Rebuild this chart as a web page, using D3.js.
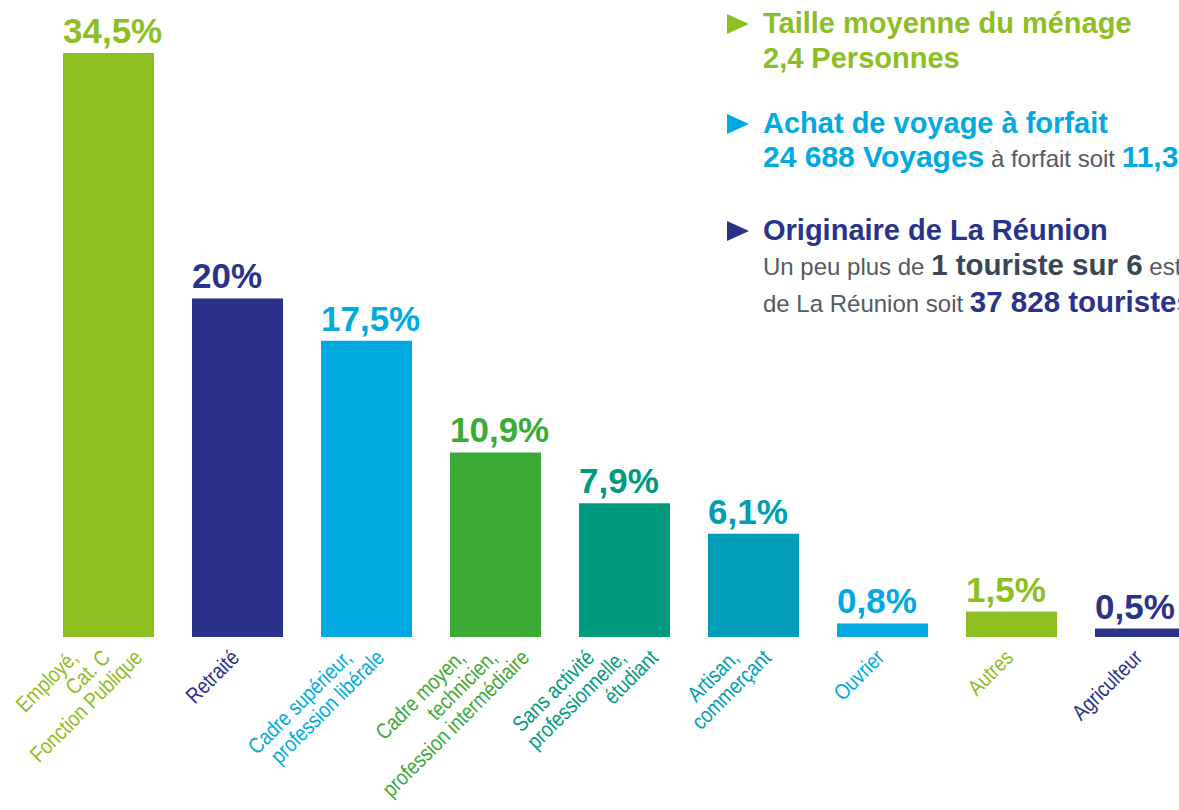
<!DOCTYPE html>
<html>
<head>
<meta charset="utf-8">
<script src="https://cdn.jsdelivr.net/npm/d3@7"></script>
<style>
  body { margin: 0; background: #fff; }
  svg { display: block; }
</style>
</head>
<body>
<div id="chart"></div>
<script>
// categories (line breaks = label lines), values and their printed labels
var categories = [
  "Employé,\nCat. C\nFonction Publique",
  "Retraité",
  "Cadre supérieur,\nprofession libérale",
  "Cadre moyen,\ntechnicien,\nprofession intermédiaire",
  "Sans activité\nprofessionnelle,\nétudiant",
  "Artisan,\ncommerçant",
  "Ouvrier",
  "Autres",
  "Agriculteur"
];
var values = [34.5, 20, 17.5, 10.9, 7.9, 6.1, 0.8, 1.5, 0.5];
var valueLabels = ["34,5%", "20%", "17,5%", "10,9%", "7,9%", "6,1%", "0,8%", "1,5%", "0,5%"];

var green = "#8dbe22",
  navy = "#2a3389",
  cyan = "#00aae1",
  green2 = "#3caa36",
  teal = "#009a7f",
  tealBlue = "#009db6";
var barColors = [green, navy, cyan, green2, teal, tealBlue, cyan, green, navy];

var frameWidth = 1179,
  frameHeight = 810;

var svg = d3
  .select("#chart")
  .append("svg")
  .attr("width", frameWidth)
  .attr("height", frameHeight)
  .style("font-family", "'Liberation Sans', Arial, Helvetica, sans-serif");

svg.append("rect").attr("width", frameWidth).attr("height", frameHeight).attr("fill", "#fff");

// step of 129px, bars 91px wide, first bar at x=63
var xScale = d3
  .scaleBand()
  .domain(categories)
  .range([44, 44 + 9 * 129])
  .paddingInner(38 / 129)
  .paddingOuter(19 / 129);

var yScale = d3.scaleLinear().domain([0, 34.5]).range([637, 53]);

var data = categories.map(function (c, i) {
  return { cat: c, value: values[i], label: valueLabels[i], color: barColors[i] };
});

var g = svg.append("g").attr("class", "bars");

g.selectAll("rect")
  .data(data)
  .enter()
  .append("rect")
  .attr("x", function (d) { return xScale(d.cat); })
  .attr("y", function (d) { return yScale(d.value); })
  .attr("width", xScale.bandwidth())
  .attr("height", function (d) { return yScale(0) - yScale(d.value); })
  .attr("fill", function (d) { return d.color; });

// value labels above bars
g.selectAll(".valueLabel")
  .data(data)
  .enter()
  .append("text")
  .attr("class", "valueLabel")
  .attr("x", function (d) { return xScale(d.cat); })
  .attr("y", function (d) { return yScale(d.value) - 10; })
  .attr("fill", function (d) { return d.color; })
  .style("font-size", "35px")
  .style("font-weight", "bold")
  .text(function (d) { return d.label; });

// rotated category labels, each line shifted so the line ends sit on one row
var lineShift = 32;
data.forEach(function (d) {
  var lines = d.cat.split("\n");
  var cx = xScale(d.cat) + xScale.bandwidth() / 2;
  lines.forEach(function (line, i) {
    var x = cx + 3 + (i - (lines.length - 1) / 2) * lineShift;
    g.append("text")
      .attr("class", "catLabel")
      .attr("transform", "translate(" + x + ",659) rotate(-45) scale(0.84,1)")
      .attr("text-anchor", "end")
      .attr("fill", d.color)
      .style("font-size", "22px")
      .text(line);
  });
});

// side notes, top right
var notes = svg.append("g").attr("class", "notes");

function marker(y, color) {
  notes
    .append("path")
    .attr("d", "M727," + (y - 19) + "L749," + (y - 9) + "L727," + (y + 1) + "Z")
    .attr("fill", color);
}

function line(y, parts) {
  var t = notes.append("text").attr("x", 763).attr("y", y);
  parts.forEach(function (p) {
    t.append("tspan")
      .attr("fill", p.color)
      .style("font-size", p.size + "px")
      .style("font-weight", p.bold ? "bold" : "normal")
      .text(p.text);
  });
}

var grey = "#555a5f",
  slate = "#3b4655";

marker(33, green);
line(33, [{ text: "Taille moyenne du ménage", color: green, size: 29, bold: true }]);
line(68, [{ text: "2,4 Personnes", color: green, size: 29, bold: true }]);

marker(133, cyan);
line(133, [{ text: "Achat de voyage à forfait", color: cyan, size: 29, bold: true }]);
line(167, [
  { text: "24 688 Voyages", color: cyan, size: 30, bold: true },
  { text: " à forfait soit ", color: grey, size: 24, bold: false },
  { text: "11,3%", color: cyan, size: 30, bold: true }
]);

marker(240, navy);
line(240, [{ text: "Originaire de La Réunion", color: navy, size: 29, bold: true }]);
line(275, [
  { text: "Un peu plus de ", color: grey, size: 24, bold: false },
  { text: "1 touriste sur 6", color: slate, size: 29.5, bold: true },
  { text: " est originaire", color: grey, size: 24, bold: false }
]);
line(312, [
  { text: "de La Réunion soit ", color: grey, size: 24, bold: false },
  { text: "37 828 touristes", color: navy, size: 29.5, bold: true }
]);
</script>
</body>
</html>
